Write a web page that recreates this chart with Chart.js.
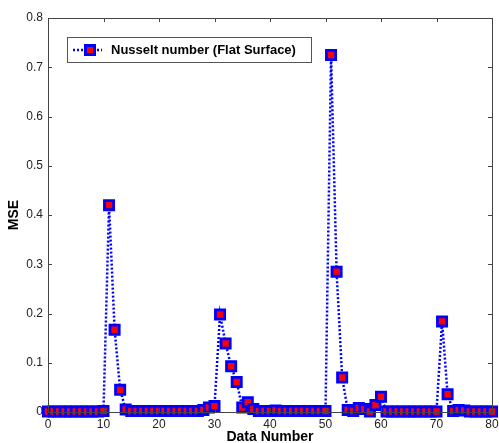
<!DOCTYPE html>
<html>
<head>
<meta charset="utf-8">
<script src="https://cdn.jsdelivr.net/npm/chart.js@4"></script>
<style>
  html, body { margin: 0; padding: 0; background: #fff; }
  #wrap { width: 499px; height: 443px; }
</style>
</head>
<body>
<div id="wrap"><canvas id="mse-chart"></canvas></div>
<script>
const dataNumbers = [0, 1, 2, 3, 4, 5, 6, 7, 8, 9, 10, 11, 12, 13, 14, 15, 16, 17, 18, 19,
    20, 21, 22, 23, 24, 25, 26, 27, 28, 29, 30, 31, 32, 33, 34, 35, 36, 37, 38, 39,
    40, 41, 42, 43, 44, 45, 46, 47, 48, 49, 50, 51, 52, 53, 54, 55, 56, 57, 58, 59,
    60, 61, 62, 63, 64, 65, 66, 67, 68, 69, 70, 71, 72, 73, 74, 75, 76, 77, 78, 79, 80];

const mseValues = [0.001, 0.001, 0.001, 0.001, 0.001, 0.001, 0.001, 0.001, 0.001, 0.001,
    0.002, 0.42, 0.167, 0.045, 0.005, 0.002, 0.002, 0.002, 0.002, 0.002,
    0.002, 0.002, 0.002, 0.002, 0.002, 0.002, 0.002, 0.002, 0.004, 0.009,
    0.012, 0.198, 0.139, 0.093, 0.061, 0.009, 0.02, 0.006, 0.002, 0.002,
    0.002, 0.003, 0.002, 0.002, 0.002, 0.002, 0.002, 0.002, 0.002, 0.002,
    0.002, 0.725, 0.285, 0.07, 0.004, 0.002, 0.008, 0.006, 0.001, 0.014,
    0.031, 0.001, 0.001, 0.001, 0.001, 0.001, 0.001, 0.001, 0.001, 0.001,
    0.001, 0.184, 0.036, 0.002, 0.004, 0.003, 0.001, 0.001, 0.001, 0.001, 0.001];

const seriesLabel = "Nusselt number (Flat Surface)";
const xTicks = [0, 10, 20, 30, 40, 50, 60, 70, 80];
const yTicks = [0, 0.1, 0.2, 0.3, 0.4, 0.5, 0.6, 0.7, 0.8];

const axisColor = "#444";
const fontFamily = "'Liberation Sans', Arial, sans-serif";

// box round the plot + inward ticks, matlab style
const boxPlugin = {
    id: "boxPlugin",
    afterDraw(chart) {
        const { ctx, chartArea: a, scales } = chart;
        ctx.save();
        ctx.strokeStyle = axisColor;
        ctx.lineWidth = 1;
        ctx.strokeRect(a.left + 0.5, a.top + 0.5, a.right - a.left, a.bottom - a.top);
        ctx.beginPath();
        xTicks.forEach((v) => {
            const px = Math.round(scales.x.getPixelForValue(v)) + 0.5;
            ctx.moveTo(px, a.bottom);
            ctx.lineTo(px, a.bottom - 4);
            ctx.moveTo(px, a.top);
            ctx.lineTo(px, a.top + 4);
        });
        yTicks.forEach((v) => {
            const py = Math.round(scales.y.getPixelForValue(v)) + 0.5;
            ctx.moveTo(a.left, py);
            ctx.lineTo(a.left + 4, py);
            ctx.moveTo(a.right, py);
            ctx.lineTo(a.right - 4, py);
        });
        ctx.stroke();

        // legend box
        const lx = 67, ly = 37, lw = 244, lh = 25;
        ctx.fillStyle = "#fff";
        ctx.fillRect(lx, ly, lw, lh);
        ctx.strokeStyle = "#555";
        ctx.strokeRect(lx + 0.5, ly + 0.5, lw, lh);
        const cy = ly + lh / 2 + 0.5;
        ctx.strokeStyle = "#0000ff";
        ctx.lineWidth = 2.5;
        ctx.setLineDash([2, 2]);
        ctx.beginPath();
        ctx.moveTo(73, cy);
        ctx.lineTo(102, cy);
        ctx.stroke();
        ctx.setLineDash([]);
        ctx.fillStyle = "#0000ff";
        ctx.fillRect(84, cy - 6, 12, 12);
        ctx.fillStyle = "#ff0000";
        ctx.fillRect(87, cy - 3, 6, 6);
        ctx.fillStyle = "#000";
        ctx.font = "bold 13px " + fontFamily;
        ctx.textBaseline = "middle";
        ctx.fillText(seriesLabel, 111, cy);
        ctx.restore();
    },
};

const ctx = document.querySelector("#mse-chart").getContext("2d");

new Chart(ctx, {
    type: "line",
    data: {
        datasets: [
            {
                label: seriesLabel,
                data: dataNumbers.map((x, i) => ({ x: x, y: mseValues[i] })),
                borderColor: "#0000ff",
                borderWidth: 2.5,
                borderDash: [2, 2],
                pointStyle: "rect",
                pointRadius: 6.5,
                pointBorderWidth: 2.8,
                pointBackgroundColor: "#ff0000",
                pointBorderColor: "#0000ff",
                tension: 0,
                clip: false,
            },
        ],
    },
    options: {
        responsive: true,
        maintainAspectRatio: false,
        animation: false,
        layout: {
            autoPadding: false,
            padding: { left: 0, top: 18, right: 7, bottom: 0 },
        },
        scales: {
            x: {
                type: "linear",
                min: 0,
                max: 80,
                afterBuildTicks: (scale) => {
                    scale.ticks = xTicks.map((v) => ({ value: v }));
                },
                afterFit: (scale) => {
                    scale.height = 31;
                    scale.paddingLeft = 0;
                    scale.paddingRight = 0;
                },
                grid: { display: false, drawTicks: false },
                border: { display: false },
                ticks: {
                    color: "#222",
                    padding: 5,
                    maxRotation: 0,
                    font: { family: fontFamily, size: 12 },
                },
                title: {
                    display: true,
                    text: "Data Number",
                    color: "#000",
                    padding: { top: 0, bottom: -2.5 },
                    font: { family: fontFamily, size: 14, weight: "bold" },
                },
            },
            y: {
                min: 0,
                max: 0.8,
                afterBuildTicks: (scale) => {
                    scale.ticks = yTicks.map((v) => ({ value: v }));
                },
                afterFit: (scale) => {
                    scale.width = 48;
                    scale.paddingTop = 0;
                    scale.paddingBottom = 0;
                },
                grid: { display: false, drawTicks: false },
                border: { display: false },
                ticks: {
                    color: "#222",
                    padding: 5,
                    font: { family: fontFamily, size: 12 },
                    callback: (v) => String(+v.toFixed(1)),
                },
                title: {
                    display: true,
                    text: "MSE",
                    color: "#000",
                    padding: { top: 6, bottom: 0 },
                    font: { family: fontFamily, size: 14, weight: "bold" },
                },
            },
        },
        plugins: {
            legend: { display: false },
            tooltip: { enabled: false },
        },
    },
    plugins: [boxPlugin],
});
</script>
</body>
</html>
